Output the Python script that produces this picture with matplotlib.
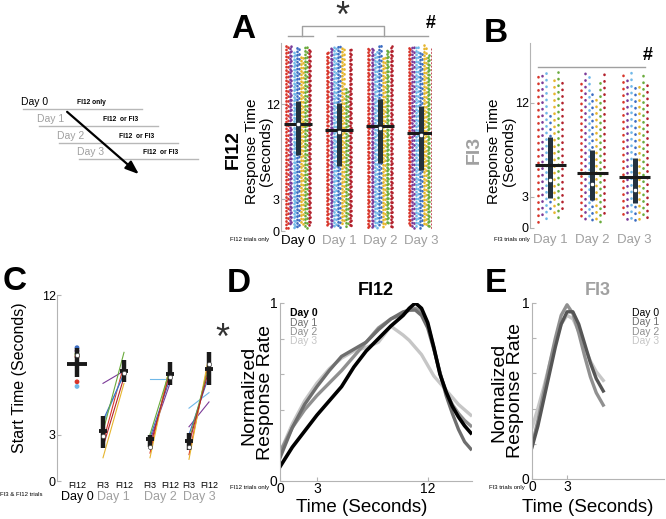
import numpy as np
import matplotlib.pyplot as plt

plt.rcParams['font.family'] = ['Liberation Sans', 'DejaVu Sans']

W, H = 666, 519
GRAY = '#a0a0a0'
AXC = '#b4b4b4'

# animals: red, purple, sky, blue, yellow, green, dark red
animal_colors = ['#d8352a', '#7b3a98', '#70b8e8', '#3b6cc2', '#e6b52e', '#6aab3c', '#b2212c']

# ---- A: FI12 response times (range of each animal's dots per day)
a_days = ['Day 0', 'Day 1', 'Day 2', 'Day 3']
a_low = [[0.3, 0.5, 0.2, 0.4, 0.6, 0.3, 0.5],
         [0.4, 0.3, 0.5, 0.3, 0.6, 0.4, 0.3],
         [0.3, 0.4, 0.3, 0.5, 0.4, 0.6, 0.3],
         [0.5, 0.3, 0.4, 0.3, 0.5, 0.4, 0.3]]
a_high = [[17.6, 17.5, 17.0, 17.6, 16.5, 17.4, 17.2],
          [17.0, 17.3, 17.6, 17.5, 17.6, 13.5, 17.2],
          [17.5, 17.4, 17.0, 17.6, 16.5, 17.3, 17.5],
          [17.4, 17.5, 17.6, 16.9, 17.6, 16.7, 17.5]]
a_mean = [10.1, 9.6, 9.9, 9.3]
a_sd_lo = [7.2, 6.2, 6.4, 5.8]
a_sd_hi = [12.3, 12.1, 12.5, 11.8]
a_median = [10.1, 9.4, 9.75, 9.1]

# ---- B: FI3 response times
b_days = ['Day 1', 'Day 2', 'Day 3']
b_low = [[0.6, 0.8, 0.5, 1.5, 1.2, 0.9, 1.8],
         [0.7, 0.5, 0.9, 0.6, 0.8, 0.6, 0.9],
         [1.0, 0.6, 0.8, 0.7, 0.9, 0.8, 0.6]]
b_high = [[14.9, 14.6, 14.9, 11.0, 14.2, 14.9, 14.0],
          [14.2, 14.9, 14.6, 13.0, 12.5, 14.0, 14.9],
          [14.9, 14.6, 14.9, 13.5, 14.0, 14.8, 14.2]]
b_mean = [6.0, 5.3, 4.9]
b_sd_lo = [2.9, 2.7, 2.4]
b_sd_hi = [8.75, 7.5, 6.7]
b_median = [4.6, 4.2, 3.6]

# ---- C: start times
c_x = [1.0, 2.3, 3.35, 4.65, 5.65, 6.6, 7.6]
c_labels = ['FI12', 'FI3', 'FI12', 'FI3', 'FI12', 'FI3', 'FI12']
c_mean = [7.57, 3.24, 7.1, 2.7, 6.9, 2.6, 7.25]
c_lo = [6.7, 2.16, 6.4, 2.2, 6.2, 2.0, 6.2]
c_hi = [8.55, 4.2, 7.8, 3.0, 7.7, 3.1, 8.3]
c_median = [8.1, 2.9, 7.0, 2.2, 6.7, 2.2, 7.57]
c_day0 = [6.4, 8.4, 6.1, 8.6, 8.1, 8.2, 8.0]
c_fi3 = [[2.5, 6.3, 3.7, 3.9, 1.5, 3.2, 2.2],
         [1.8, 2.6, 6.55, 2.8, 1.5, 3.0, 2.2],
         [1.7, 3.5, 4.7, 3.0, 1.4, 2.6, 2.4]]
c_fi12 = [[7.5, 7.1, 7.0, 6.9, 6.3, 8.3, 6.7],
          [7.4, 6.3, 6.55, 6.6, 7.5, 7.2, 7.0],
          [7.8, 5.1, 5.7, 6.8, 8.1, 7.4, 7.2]]

# ---- D: FI12 normalized response rate
d_t = [0, 1, 2, 3, 4, 5, 6, 7, 8, 9, 10, 10.5, 11, 11.5, 12, 12.5, 13, 13.5, 14, 14.5, 15, 15.5]
d_day0 = [0.08, 0.19, 0.28, 0.37, 0.45, 0.53, 0.64, 0.73, 0.80, 0.87, 0.93, 0.97, 1.0, 0.97,
          0.89, 0.75, 0.60, 0.50, 0.42, 0.36, 0.31, 0.27]
d_day1 = [0.13, 0.30, 0.43, 0.53, 0.62, 0.70, 0.74, 0.78, 0.85, 0.91, 0.95, 0.96, 0.96, 0.93,
          0.86, 0.74, 0.61, 0.48, 0.38, 0.29, 0.22, 0.18]
d_day2 = [0.16, 0.30, 0.40, 0.48, 0.55, 0.62, 0.70, 0.78, 0.86, 0.91, 0.94, 0.96, 0.97, 0.95,
          0.88, 0.75, 0.60, 0.50, 0.43, 0.38, 0.34, 0.31]
d_day3 = [0.16, 0.32, 0.45, 0.55, 0.63, 0.69, 0.73, 0.75, 0.78, 0.87, 0.82, 0.79, 0.75, 0.71,
          0.65, 0.59, 0.55, 0.51, 0.47, 0.43, 0.40, 0.37]

# ---- E: FI3 normalized response rate
e_t = [0, 0.5, 1, 1.5, 2, 2.5, 3, 3.5, 4, 4.5, 5, 5.5, 6.1]
e_day1 = [0.18, 0.30, 0.45, 0.60, 0.75, 0.88, 0.95, 0.95, 0.88, 0.77, 0.66, 0.57, 0.50]
e_day2 = [0.19, 0.33, 0.49, 0.65, 0.80, 0.93, 0.99, 0.94, 0.83, 0.70, 0.58, 0.49, 0.42]
e_day3 = [0.29, 0.40, 0.52, 0.65, 0.78, 0.88, 0.93, 0.91, 0.84, 0.75, 0.67, 0.61, 0.56]

day_colors = ['#000000', '#6e6e6e', '#909090', '#c6c6c6']


def rect(x0, y0, x1, y1):
    return [x0 / W, 1 - y1 / H, (x1 - x0) / W, (y1 - y0) / H]


def ftext(px, py, s, **kw):
    fig.text(px / W, 1 - py / H, s, **kw)


def style_axes(ax, bottom=False):
    for s in ['top', 'right']:
        ax.spines[s].set_visible(False)
    ax.spines['left'].set_color(AXC)
    if bottom:
        ax.spines['bottom'].set_color(AXC)
    else:
        ax.spines['bottom'].set_visible(False)
    ax.tick_params(colors=AXC, labelcolor='black', direction='in', length=3, width=0.8)


def strips(ax, lows, highs, dense):
    # each animal's trials drawn as a dotted vertical strip
    offs = np.linspace(-0.28, 0.28, 7)
    subs = [(-0.02, 1.2), (0.02, 1.75)] if dense else [(0.0, 2.4)]
    for i, (lo_row, hi_row) in enumerate(zip(lows, highs)):
        for j in range(7):
            for s, gap in subs:
                ax.plot([i + offs[j] + s] * 2, [lo_row[j], hi_row[j]], color=animal_colors[j],
                        lw=1.9, ls=(j * 0.37 + i * 0.5, (0.1, gap)), dash_capstyle='round', zorder=2)


def summary(ax, xs, means, lo, hi, med, half):
    for x, m, l, h, md in zip(xs, means, lo, hi, med):
        ax.plot([x, x], [l, h], color='#24323f', lw=3.6, solid_capstyle='butt', zorder=4)
        ax.plot([x - half, x + half], [m, m], color='#1a1a1a', lw=2.2, solid_capstyle='butt', zorder=5)
        ax.plot(x, md, 'o', ms=3.2, mfc='white', mec='#24323f', mew=0.5, zorder=6)


fig = plt.figure(figsize=(W / 100, H / 100), dpi=100)

# ---------------- schematic
ov = fig.add_axes([0, 0, 1, 1])
ov.set_xlim(0, W)
ov.set_ylim(H, 0)
ov.axis('off')
sch_rows = [(23, 109, 'Day 0', 'FI12 only', 'black', 77),
            (39, 126, 'Day 1', 'FI12  or FI3', GRAY, 103),
            (59, 143, 'Day 2', 'FI12  or FI3', GRAY, 119),
            (79, 159, 'Day 3', 'FI12  or FI3', GRAY, 143)]
for x0, y0, lab, cond, col, cx in sch_rows:
    ov.plot([x0, x0 + 119], [y0, y0], color='#b8b8b8', lw=1)
    ov.text(x0 - 2, y0 - 2, lab, color=col, fontsize=7.5, va='bottom')
    ov.text(cx, y0 - 3, cond, color='black', fontsize=4.8, fontweight='bold', va='bottom')
ov.annotate('', xy=(141, 176), xytext=(65, 110),
            arrowprops=dict(arrowstyle='-|>,head_length=0.8,head_width=0.3', color='black', lw=1.6))

# ---------------- A
axA = fig.add_axes(rect(281, 43, 432, 231))
style_axes(axA)
strips(axA, a_low, a_high, True)
summary(axA, range(4), a_mean, a_sd_lo, a_sd_hi, a_median, 0.34)
axA.set_xlim(-0.42, 3.27)
axA.set_ylim(0, 17.8)
axA.set_yticks([0, 3, 12])
axA.tick_params(axis='y', labelsize=9, pad=1)
axA.set_xticks(range(4))
axA.set_xticklabels(a_days, fontsize=9.5)
axA.tick_params(axis='x', length=0, pad=3)
for k, t in enumerate(axA.get_xticklabels()):
    t.set_color('black' if k == 0 else GRAY)
br = dict(color=GRAY, lw=1, clip_on=False)
axA.plot([-0.25, 0.36], [18.5, 18.5], **br)
axA.plot([0.95, 3.17], [18.5, 18.5], **br)
axA.plot([0.09, 0.09, 2.1, 2.1], [18.5, 19.45, 19.45, 18.5], **br)
axA.text(1.07, 20.2, '*', fontsize=26, ha='center', va='center', color='#333333')
axA.text(3.25, 19.6, '#', fontsize=13, fontweight='bold', ha='center', va='center')

ftext(243, 29, 'A', fontsize=24, fontweight='bold', ha='center', va='center')
ftext(233, 150, 'FI12', fontsize=14, fontweight='bold', rotation=90, ha='center', va='center')
ftext(252, 151, 'Response Time', fontsize=11, rotation=90, ha='center', va='center')
ftext(266, 151, '(Seconds)', fontsize=11, rotation=90, ha='center', va='center')
ftext(250, 239, 'FI12 trials only', fontsize=4.3, ha='center', va='center')

# ---------------- B
axB = fig.add_axes(rect(530, 43, 652, 228))
style_axes(axB)
strips(axB, b_low, b_high, False)
summary(axB, range(3), b_mean, b_sd_lo, b_sd_hi, b_median, 0.37)
axB.set_xlim(-0.48, 2.41)
axB.set_ylim(0, 17.7)
axB.set_yticks([0, 3, 12])
axB.tick_params(axis='y', labelsize=9, pad=1)
axB.set_xticks(range(3))
axB.set_xticklabels(b_days, fontsize=9.5, color=GRAY)
axB.tick_params(axis='x', length=0, pad=4)
axB.plot([-0.29, 2.24], [15.4, 15.4], color=GRAY, lw=1)
axB.text(2.3, 16.5, '#', fontsize=13, fontweight='bold', ha='center', va='center')

ftext(496, 33, 'B', fontsize=24, fontweight='bold', ha='center', va='center')
ftext(474, 150, 'FI3', fontsize=14, fontweight='bold', color=GRAY, rotation=90, ha='center', va='center')
ftext(494, 151, 'Response Time', fontsize=11, rotation=90, ha='center', va='center')
ftext(509, 151, '(Seconds)', fontsize=11, rotation=90, ha='center', va='center')
ftext(512, 239, 'FI3 trials only', fontsize=4.3, ha='center', va='center')

# ---------------- C
axC = fig.add_axes(rect(57, 295, 225, 481))
style_axes(axC)
for d in range(3):
    x3, x12 = c_x[1 + 2 * d], c_x[2 + 2 * d]
    for j in range(7):
        axC.plot([x3, x12], [c_fi3[d][j], c_fi12[d][j]], color=animal_colors[j], lw=0.8, zorder=2)
axC.scatter([c_x[0]] * 7, c_day0, c=animal_colors, s=6, zorder=3)
for k, (x, m, l, h, md) in enumerate(zip(c_x, c_mean, c_lo, c_hi, c_median)):
    half = 0.5 if k == 0 else 0.22
    axC.plot([x, x], [l, h], color='#1a1a1a', lw=3.2, solid_capstyle='butt', zorder=4)
    axC.plot([x - half, x + half], [m, m], color='#1a1a1a', lw=2.8, solid_capstyle='butt', zorder=5)
    axC.plot(x, md, 'o', ms=3, mfc='white', mec='#444444', mew=0.5, zorder=6)
axC.set_xlim(0, 8.4)
axC.set_ylim(0, 12)
axC.set_yticks([0, 3, 12])
axC.tick_params(axis='y', labelsize=9, pad=1)
axC.set_xticks(c_x)
axC.set_xticklabels(c_labels, fontsize=6.5)
axC.tick_params(axis='x', length=0, pad=0)
for lab, xc, col in zip(['Day 0', 'Day 1', 'Day 2', 'Day 3'],
                        [c_x[0], (c_x[1] + c_x[2]) / 2, (c_x[3] + c_x[4]) / 2, (c_x[5] + c_x[6]) / 2],
                        ['black', GRAY, GRAY, GRAY]):
    axC.text(xc, -0.085, lab, transform=axC.get_xaxis_transform(), fontsize=9, color=col,
             ha='center', va='center')
axC.text(8.25, 9.1, '*', fontsize=26, ha='center', va='center', color='#333333', clip_on=False)

ftext(15, 281, 'C', fontsize=24, fontweight='bold', ha='center', va='center')
ftext(20, 378, 'Start Time (Seconds)', fontsize=11.5, rotation=90, ha='center', va='center')
ftext(21, 494, 'FI3 & FI12 trials', fontsize=4.3, ha='center', va='center')

# ---------------- D
axD = fig.add_axes(rect(280, 303, 472, 481))
style_axes(axD, bottom=True)
for vals, col, lw in zip([d_day3, d_day2, d_day1, d_day0], day_colors[::-1], [2.4, 2.4, 2.4, 2.6]):
    axD.plot(d_t, vals, color=col, lw=lw)
axD.set_xlim(0, 15.6)
axD.set_ylim(0, 1)
axD.set_xticks([0, 3, 12])
axD.set_xticklabels(['0', '3', '12'], fontsize=10)
axD.set_yticks([0, 0.2, 0.4, 0.6, 0.8, 1])
axD.set_yticklabels(['0', '', '', '', '', '1'], fontsize=10)
axD.tick_params(axis='y', pad=2)
axD.tick_params(axis='x', pad=1)
axD.set_title('FI12', fontsize=13, fontweight='bold', pad=6)
for k in range(4):
    axD.text(0.05, 0.97 - k * 0.052, 'Day %d' % k, transform=axD.transAxes, color=day_colors[k],
             fontsize=7.5, fontweight='bold' if k == 0 else 'normal', va='top')

ftext(239, 283, 'D', fontsize=24, fontweight='bold', ha='center', va='center')
ftext(249, 395, 'Normalized', fontsize=14, rotation=90, ha='center', va='center')
ftext(266, 392, 'Response Rate', fontsize=14, rotation=90, ha='center', va='center')
ftext(362, 507, 'Time (Seconds)', fontsize=13.5, ha='center', va='center')
ftext(250, 487, 'FI12 trials only', fontsize=4.3, ha='center', va='center')

# ---------------- E
axE = fig.add_axes(rect(532, 303, 664, 479))
style_axes(axE, bottom=True)
for vals, col in zip([e_day3, e_day2, e_day1], [day_colors[3], day_colors[2], '#555555']):
    axE.plot(e_t, vals, color=col, lw=2.4)
axE.set_xlim(0, 11.3)
axE.set_ylim(0, 1)
axE.set_xticks([0, 3])
axE.set_xticklabels(['0', '3'], fontsize=10)
axE.set_yticks([0, 0.2, 0.4, 0.6, 0.8, 1])
axE.set_yticklabels(['0', '', '', '', '', '1'], fontsize=10)
axE.tick_params(axis='y', pad=2)
axE.tick_params(axis='x', pad=1)
axE.set_title('FI3', fontsize=13, fontweight='bold', color=GRAY, pad=6)
for k in range(4):
    axE.text(0.76, 0.97 - k * 0.052, 'Day %d' % k, transform=axE.transAxes, color=day_colors[k],
             fontsize=7.5, va='top')

ftext(496, 283, 'E', fontsize=24, fontweight='bold', ha='center', va='center')
ftext(499, 392, 'Normalized', fontsize=14, rotation=90, ha='center', va='center')
ftext(516, 390, 'Response Rate', fontsize=14, rotation=90, ha='center', va='center')
ftext(588, 507, 'Time (Seconds)', fontsize=13.5, ha='center', va='center')
ftext(507, 487, 'FI3 trials only', fontsize=4.3, ha='center', va='center')

fig.savefig('out.png', dpi=100)
